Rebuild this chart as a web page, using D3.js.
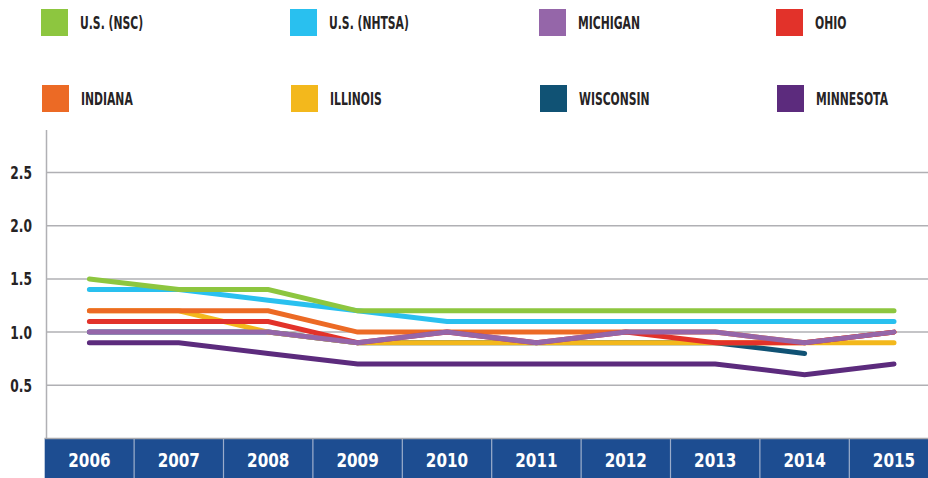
<!DOCTYPE html>
<html>
<head>
<meta charset="utf-8">
<script src="https://cdn.jsdelivr.net/npm/d3@7"></script>
<style>
  html, body { margin: 0; padding: 0; background: #fff; }
  svg { display: block; }
  .cond { font-family: "DejaVu Sans", "Liberation Sans", sans-serif; font-weight: bold; }
</style>
</head>
<body>
<svg id="chart" width="928" height="478"></svg>
<script>
// Fatality rates, 2006–2015
const years = ["2006", "2007", "2008", "2009", "2010", "2011", "2012", "2013", "2014", "2015"];

const usNsc     = [1.5, 1.4, 1.4, 1.2, 1.2, 1.2, 1.2, 1.2, 1.2, 1.2];
const usNhtsa   = [1.4, 1.4, 1.3, 1.2, 1.1, 1.1, 1.1, 1.1, 1.1, 1.1];
const michigan  = [1.0, 1.0, 1.0, 0.9, 1.0, 0.9, 1.0, 1.0, 0.9, 1.0];
const ohio      = [1.1, 1.1, 1.1, 0.9, 1.0, 0.9, 1.0, 0.9, 0.9, 1.0];
const indiana   = [1.2, 1.2, 1.2, 1.0, 1.0, 1.0, 1.0, 1.0, 0.9, 1.0];
const illinois  = [1.2, 1.2, 1.0, 0.9, 0.9, 0.9, 0.9, 0.9, 0.9, 0.9];
const wisconsin = [1.0, 1.0, 1.0, 0.9, 0.9, 0.9, 0.9, 0.9, 0.8, null];
const minnesota = [0.9, 0.9, 0.8, 0.7, 0.7, 0.7, 0.7, 0.7, 0.6, 0.7];

const seriesNames  = ["U.S. (NSC)", "U.S. (NHTSA)", "MICHIGAN", "OHIO", "INDIANA", "ILLINOIS", "WISCONSIN", "MINNESOTA"];
const seriesValues = [usNsc, usNhtsa, michigan, ohio, indiana, illinois, wisconsin, minnesota];
const seriesColors = ["#8dc63f", "#29c0ef", "#9566a9", "#e2322a", "#ec6a25", "#f3b81c", "#105274", "#5c2b7d"];

const yTicks = [0.5, 1.0, 1.5, 2.0, 2.5];

const series = seriesNames.map((name, i) => ({
  name,
  color: seriesColors[i],
  values: years.map((yr, j) => ({ year: yr, value: seriesValues[i][j] }))
}));

const svg = d3.select("#chart");

const plot = { left: 46.5, right: 928, top: 130, bottom: 438.5 };
const x = d3.scaleBand().domain(years).range([44.7, 938.7]).padding(0);
const y = d3.scaleLinear().domain([0, 2.9]).range([plot.bottom, plot.top]);

// gridlines
svg.append("g")
  .selectAll("line")
  .data(yTicks)
  .join("line")
  .attr("x1", plot.left).attr("x2", plot.right)
  .attr("y1", d => y(d)).attr("y2", d => y(d))
  .attr("stroke", "#b0b0b4").attr("stroke-width", 1.5);

// y axis line
svg.append("line")
  .attr("x1", plot.left).attr("x2", plot.left)
  .attr("y1", plot.top).attr("y2", plot.bottom)
  .attr("stroke", "#b0b0b4").attr("stroke-width", 1.5);

// y tick labels (narrowed horizontally)
svg.append("g")
  .selectAll("text")
  .data(yTicks)
  .join("text")
  .attr("class", "cond")
  .attr("transform", d => `translate(32,${y(d)}) scale(0.68,1)`)
  .attr("dy", "0.36em")
  .attr("text-anchor", "end")
  .attr("fill", "#262324")
  .style("font-size", "18px")
  .text(d => d3.format(".1f")(d));

// year band strip
const band = svg.append("g");
band.selectAll("rect")
  .data(years)
  .join("rect")
  .attr("x", d => x(d)).attr("y", plot.bottom)
  .attr("width", x.bandwidth()).attr("height", 478 - plot.bottom)
  .attr("fill", "#1d4d91");
band.selectAll("line.sep")
  .data(years.slice(1))
  .join("line")
  .attr("class", "sep")
  .attr("x1", d => x(d)).attr("x2", d => x(d))
  .attr("y1", plot.bottom).attr("y2", 478)
  .attr("stroke", "#9aaccb").attr("stroke-width", 1.2);
band.selectAll("text")
  .data(years)
  .join("text")
  .attr("class", "cond")
  .attr("transform", d => `translate(${x(d) + x.bandwidth() / 2},466.5) scale(0.76,1)`)
  .attr("text-anchor", "middle")
  .attr("fill", "#fff")
  .style("font-size", "20px")
  .text(d => d);

// bottom axis line
svg.append("line")
  .attr("x1", plot.left - 2).attr("x2", plot.right)
  .attr("y1", plot.bottom).attr("y2", plot.bottom)
  .attr("stroke", "#a9a9ad").attr("stroke-width", 1.5);

// series lines, last legend entry drawn first
const line = d3.line()
  .defined(d => d.value != null)
  .x(d => x(d.year) + x.bandwidth() / 2)
  .y(d => y(d.value));

svg.append("g")
  .selectAll("path")
  .data(series.slice().reverse())
  .join("path")
  .attr("d", d => line(d.values))
  .attr("fill", "none")
  .attr("stroke", d => d.color)
  .attr("stroke-width", 5)
  .attr("stroke-linecap", "round")
  .attr("stroke-linejoin", "miter");

// legend: two rows of four
const legendCols = [41, 290, 539, 776];
const legendRows = [9, 85];
const legend = svg.append("g")
  .selectAll("g")
  .data(series)
  .join("g")
  .attr("transform", (d, i) => `translate(${legendCols[i % 4] + (i >= 4 ? 1 : 0)},${legendRows[Math.floor(i / 4)]})`);
legend.append("rect")
  .attr("width", 27).attr("height", 27)
  .attr("fill", d => d.color);
legend.append("text")
  .attr("class", "cond")
  .attr("transform", "translate(39,19.5) scale(0.6,1)")
  .attr("fill", "#262324")
  .style("font-size", "18px")
  .text(d => d.name);
</script>
</body>
</html>
